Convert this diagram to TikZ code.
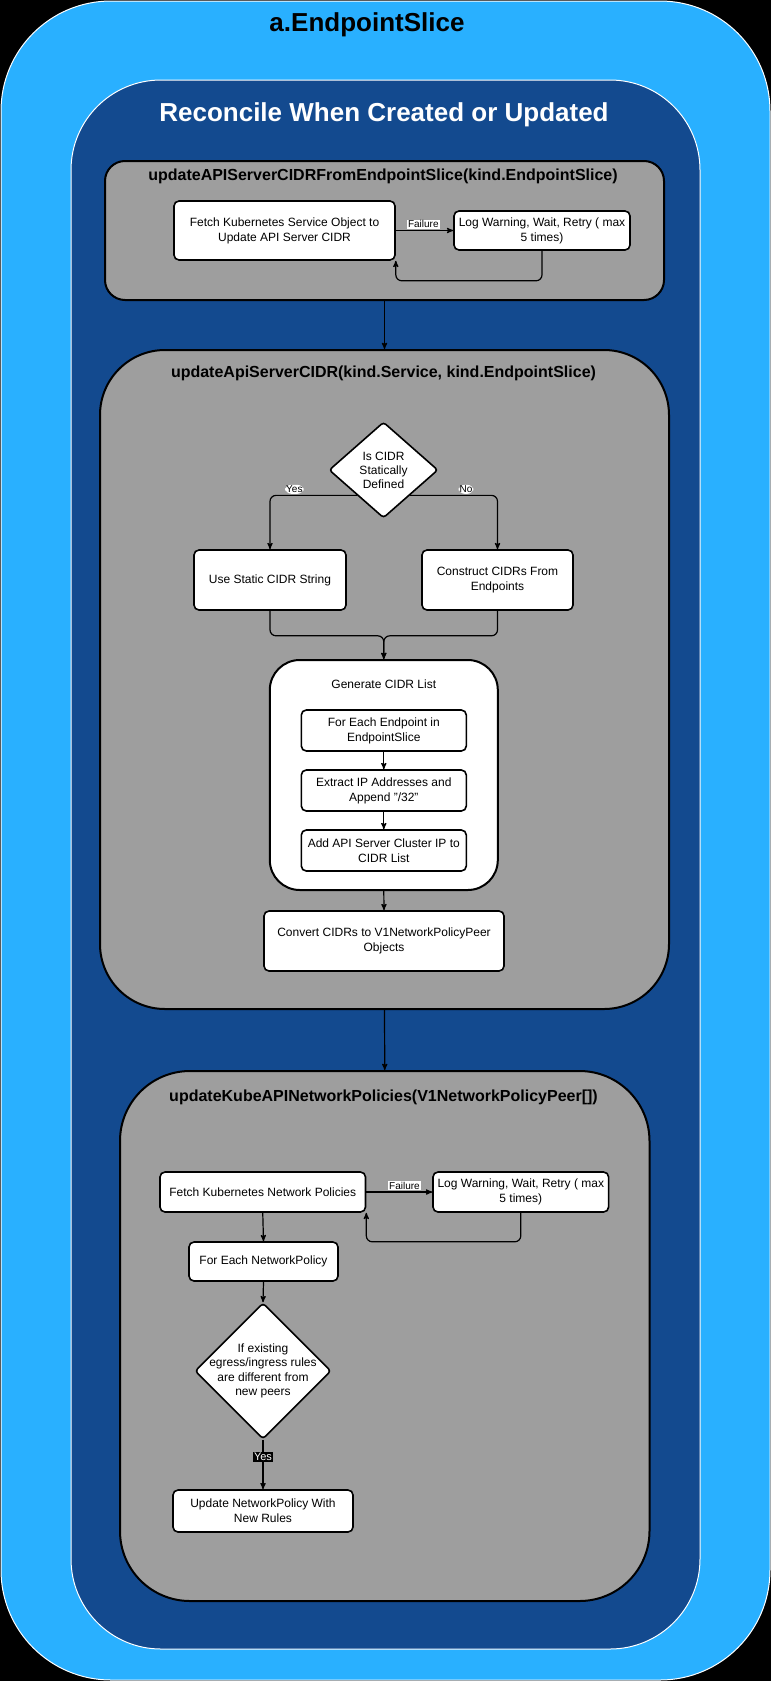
\documentclass[tikz,border=0pt]{standalone}
\usepackage{fontspec}
\setmainfont{Liberation Sans}
\usepackage{tikz}
\usetikzlibrary{positioning,shapes,arrows,calc}
\definecolor{skyblue}{RGB}{41,176,255}
\definecolor{navyblue}{RGB}{19,74,143}
\definecolor{boxgray}{RGB}{158,158,158}
\tikzset{
        >=stealth', % arrow heads of the connectors
        flow/.style={->, line width=1.2pt}, % connector between two steps
        group/.style={draw, line width=2pt, fill=boxgray}, % grey function boxes
        stepbox/.style={draw, line width=1.6pt, fill=white, rounded corners=5pt, align=center, inner sep=2pt, font=\fontsize{12}{15}\selectfont},
        decision/.style={draw, diamond, line width=1.6pt, fill=white, rounded corners=3pt, inner sep=0pt},
        tag/.style={fill=white, inner sep=1pt, font=\fontsize{10}{12}\selectfont}, % labels on edges
        grouptitle/.style={font=\fontsize{16}{19}\selectfont\bfseries},
}

\begin{document}
\begin{tikzpicture}[x=1pt,y=-1pt]
\fill[black] (0,0) rectangle (771,1681);
\useasboundingbox (0,0) rectangle (771,1681);

% outer frames
\draw[fill=skyblue, draw=white, line width=1pt, rounded corners=110pt] (1,1) rectangle (770,1680);
\node[font=\fontsize{26}{30}\selectfont\bfseries] (sliceTitle) at (367,25) {a.EndpointSlice};
\draw[fill=navyblue, draw=white!80, line width=1pt, rounded corners=90pt] (71,80) rectangle (700,1649);
\node[text=white, font=\fontsize{26}{30}\selectfont\bfseries] (reconcileTitle) at (384,115) {Reconcile When Created or Updated};

% updateAPIServerCIDRFromEndpointSlice
\node[group, rounded corners=20pt, minimum width=559pt, minimum height=139pt] (fetchgrp) at (384.5,230.5) {};
\node[grouptitle] (fetchTitle) at (383,176) {updateAPIServerCIDRFromEndpointSlice(kind.EndpointSlice)};
\node[stepbox, minimum width=221pt, minimum height=59pt] (fetch) at (284.5,230.5) {Fetch Kubernetes Service Object to\\Update API Server CIDR};
\node[stepbox, minimum width=176pt, minimum height=39pt] (log) at (542,230.5) {Log Warning, Wait, Retry ( max\\5 times)};
\draw[flow] (fetch.east) -- node[tag, pos=0.48, above=1pt] {Failure} (log.west);
\draw[flow, rounded corners=6pt] (log.south) -- ++(0,30) -| (fetch.south east);

% updateApiServerCIDR
\node[group, rounded corners=65pt, minimum width=569pt, minimum height=659pt] (cidrgrp) at (384.5,679.5) {};
\node[grouptitle] (cidrTitle) at (383.5,373) {updateApiServerCIDR(kind.Service, kind.EndpointSlice)};
\draw[flow] (fetchgrp.south) -- (cidrgrp.north);

\node[decision, minimum width=109pt, minimum height=96pt,
      label={[align=center, font=\fontsize{12}{14}\selectfont]center:Is CIDR\\Statically\\Defined}] (cidrq) at (383.5,470) {};
\node[stepbox, minimum width=152pt, minimum height=60pt] (static) at (270,580) {Use Static CIDR String};
\node[stepbox, minimum width=151pt, minimum height=60pt] (construct) at (497.5,580) {Construct CIDRs From\\Endpoints};
\draw[flow, rounded corners=6pt] ($(cidrq.west)!0.52!(cidrq.south)$) -| node[tag, pos=0.36, above=1pt] {Yes} (static.north);
\draw[flow, rounded corners=6pt] ($(cidrq.east)!0.52!(cidrq.south)$) -| node[tag, pos=0.32, above=1pt] {No} (construct.north);

\node[draw, line width=2pt, fill=white, rounded corners=30pt, minimum width=228pt, minimum height=230pt] (gen) at (383.8,775) {};
\node[font=\fontsize{12}{15}\selectfont] (genTitle) at (383.8,684) {Generate CIDR List};
\draw[flow, rounded corners=6pt] (static.south) -- ++(0,25) -| (gen.north);
\draw[flow, rounded corners=6pt] (construct.south) -- ++(0,25) -| (gen.north);

\node[stepbox, minimum width=165pt, minimum height=41pt] (eachEp) at (383.8,730.5) {For Each Endpoint in\\EndpointSlice};
\node[stepbox, minimum width=165pt, minimum height=41pt] (extract) at (383.8,790.5) {Extract IP Addresses and\\Append "/32"};
\node[stepbox, minimum width=165pt, minimum height=41pt] (addIp) at (383.8,850.5) {Add API Server Cluster IP to\\CIDR List};
\draw[flow] (eachEp) -- (extract);
\draw[flow] (extract) -- (addIp);

\node[stepbox, minimum width=240pt, minimum height=60pt] (convert) at (384,941) {Convert CIDRs to V1NetworkPolicyPeer\\Objects};
\draw[flow] (gen.south) -- (convert.north);

% updateKubeAPINetworkPolicies
\node[group, rounded corners=70pt, minimum width=529.5pt, minimum height=530pt] (policygrp) at (384.75,1336) {};
\node[grouptitle] (policyTitle) at (383.5,1097) {updateKubeAPINetworkPolicies(V1NetworkPolicyPeer[])};
\draw[flow] (cidrgrp.south) -- (policygrp.north);

\node[stepbox, minimum width=205.5pt, minimum height=40pt] (fetchNp) at (262.75,1192) {Fetch Kubernetes Network Policies};
\node[stepbox, minimum width=175.6pt, minimum height=40pt] (logNp) at (520.8,1192) {Log Warning, Wait, Retry ( max\\5 times)};
\draw[flow] (fetchNp.east) -- node[tag, pos=0.58, above=1pt] {Failure} (logNp.west);
\draw[flow, rounded corners=6pt] (logNp.south) -- ++(0,29) -| (fetchNp.south east);

\node[stepbox, minimum width=149pt, minimum height=39pt] (eachNp) at (263.5,1261.5) {For Each NetworkPolicy};
\draw[flow] (fetchNp.south) -- (eachNp.north);

\node[decision, minimum width=136pt, minimum height=136pt,
      label={[align=center, font=\fontsize{12}{14.5}\selectfont]center:If existing\\egress/ingress rules\\are different from\\new peers}] (rulesq) at (263,1371) {};
\draw[flow] (eachNp.south) -- (rulesq.north);

\node[stepbox, minimum width=180pt, minimum height=42pt] (updateNp) at (263,1511) {Update NetworkPolicy With\\New Rules};
\draw[flow] (rulesq.south) -- node[tag, fill=black, text=white, pos=0.35, font=\fontsize{11}{13}\selectfont] {Yes} (updateNp.north);

\end{tikzpicture}
\end{document}
